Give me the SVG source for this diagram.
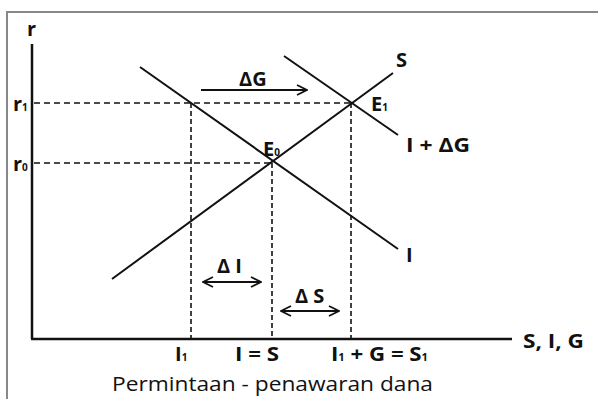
<svg xmlns="http://www.w3.org/2000/svg" width="598" height="399" viewBox="0 0 598 399">
<defs>
<style>
.b{font-family:"Open Sans","Liberation Sans",sans-serif;font-weight:bold;font-size:20px;fill:#111}
.sub{font-size:10px}
.ln{stroke:#111;stroke-width:2;fill:none}
.ax{stroke:#111;stroke-width:2.5;fill:none}
.dash{stroke:#111;stroke-width:1.6;stroke-dasharray:6,4;fill:none}
.vd{stroke:#111;stroke-width:1.6;stroke-dasharray:5,3;fill:none}
.arr{stroke:#111;stroke-width:1.8;fill:none}
</style>
<marker id="ah" viewBox="0 0 12 12" refX="11" refY="6" markerWidth="12" markerHeight="12" markerUnits="userSpaceOnUse" orient="auto-start-reverse">
<path d="M1,1 L11,6 L1,11" fill="none" stroke="#111" stroke-width="1.8"/>
</marker>
</defs>
<rect x="0" y="0" width="598" height="399" fill="#fff"/>
<rect x="7" y="12" width="600" height="400" fill="none" stroke="#888" stroke-width="2"/>
<g id="axes">
<line class="ax" x1="32" y1="44" x2="32" y2="339"/>
<line class="ax" x1="31" y1="339" x2="512" y2="339"/>
<text class="b" x="27" y="36">r</text>
<text class="b" x="523" y="348" textLength="61" lengthAdjust="spacingAndGlyphs">S, I, G</text>
</g>
<g id="connectors">
<line class="dash" x1="34" y1="103" x2="351" y2="103"/>
<line class="dash" x1="34" y1="163" x2="272" y2="163"/>
<line class="vd" x1="191" y1="103" x2="191" y2="338"/>
<line class="vd" x1="272" y1="163" x2="272" y2="338"/>
<line class="vd" x1="351" y1="103" x2="351" y2="338"/>
<line class="arr" x1="201" y1="90" x2="307" y2="90" marker-end="url(#ah)"/>
<line class="arr" x1="203" y1="282" x2="261" y2="282" marker-start="url(#ah)" marker-end="url(#ah)"/>
<line class="arr" x1="281" y1="311" x2="339" y2="311" marker-start="url(#ah)" marker-end="url(#ah)"/>
</g>
<g id="curve-I">
<line class="ln" x1="140" y1="67" x2="398" y2="249"/>
<text class="b" x="406" y="262">I</text>
</g>
<g id="curve-IdG">
<line class="ln" x1="284" y1="56" x2="398" y2="135"/>
<text class="b" x="406" y="152" textLength="64" lengthAdjust="spacingAndGlyphs">I + ΔG</text>
</g>
<g id="curve-S">
<line class="ln" x1="112" y1="279" x2="393" y2="73"/>
<text class="b" x="396" y="67">S</text>
</g>
<g id="labels">
<text class="b" x="13" y="111">r<tspan class="sub">1</tspan></text>
<text class="b" x="13" y="171">r<tspan class="sub">0</tspan></text>
<text class="b" x="263" y="156">E<tspan class="sub">0</tspan></text>
<text class="b" x="371" y="111">E<tspan class="sub">1</tspan></text>
<text class="b" x="239" y="86">ΔG</text>
<text class="b" x="217" y="273">Δ I</text>
<text class="b" x="295" y="303">Δ S</text>
<text class="b" x="175" y="361">I<tspan class="sub">1</tspan></text>
<text class="b" x="235" y="361" textLength="44" lengthAdjust="spacingAndGlyphs">I = S</text>
<text class="b" x="331" y="361" textLength="97" lengthAdjust="spacingAndGlyphs">I<tspan class="sub">1</tspan> + G = S<tspan class="sub">1</tspan></text>
<text x="112" y="391" font-family="'Open Sans','Liberation Sans',sans-serif" font-size="20" fill="#111" textLength="321" lengthAdjust="spacingAndGlyphs">Permintaan - penawaran dana</text>
</g>
</svg>
